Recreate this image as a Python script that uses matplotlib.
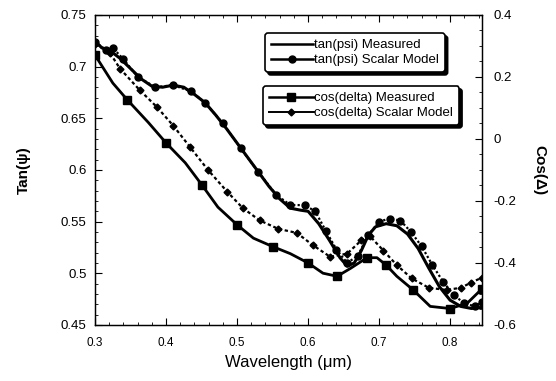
import matplotlib
matplotlib.use("Agg")
import matplotlib.pyplot as plt
from matplotlib.lines import Line2D
from matplotlib.ticker import MultipleLocator

plt.rcParams["font.family"] = ["Liberation Sans", "DejaVu Sans"]

# tan(psi) measured (left axis)
wl_tm = [0.300, 0.310, 0.320, 0.335, 0.350, 0.365, 0.380, 0.395, 0.410, 0.425,
         0.440, 0.455, 0.470, 0.485, 0.500, 0.515, 0.530, 0.545, 0.560, 0.575,
         0.590, 0.600, 0.615, 0.630, 0.645, 0.655, 0.665, 0.675, 0.685, 0.695,
         0.710, 0.725, 0.740, 0.755, 0.770, 0.785, 0.800, 0.815, 0.830, 0.845]
tan_meas = [0.724, 0.718, 0.716, 0.708, 0.698, 0.688, 0.681, 0.680, 0.682, 0.680,
            0.673, 0.665, 0.653, 0.640, 0.626, 0.612, 0.598, 0.584, 0.572, 0.563,
            0.561, 0.560, 0.548, 0.532, 0.515, 0.507, 0.510, 0.522, 0.537, 0.545,
            0.548, 0.546, 0.538, 0.524, 0.505, 0.487, 0.474, 0.468, 0.466, 0.467]

# tan(psi) scalar model (left axis)
wl_ts = [0.300, 0.315, 0.325, 0.340, 0.360, 0.385, 0.410, 0.435, 0.455, 0.480,
         0.505, 0.530, 0.555, 0.575, 0.595, 0.610, 0.625, 0.640, 0.655, 0.670,
         0.685, 0.700, 0.715, 0.730, 0.745, 0.760, 0.775, 0.790, 0.805, 0.820,
         0.835, 0.845]
tan_model = [0.724, 0.716, 0.718, 0.707, 0.690, 0.680, 0.682, 0.676, 0.665, 0.645,
             0.621, 0.598, 0.576, 0.566, 0.566, 0.560, 0.541, 0.523, 0.510, 0.517,
             0.537, 0.550, 0.553, 0.551, 0.540, 0.526, 0.508, 0.492, 0.479, 0.471,
             0.468, 0.472]

# cos(delta) measured (right axis)
wl_cm = [0.300, 0.325, 0.345, 0.375, 0.400, 0.427, 0.450, 0.473, 0.500, 0.523,
         0.550, 0.575, 0.600, 0.621, 0.641, 0.660, 0.683, 0.697, 0.710, 0.725,
         0.748, 0.772, 0.800, 0.824, 0.845]
cos_meas = [0.270, 0.180, 0.127, 0.053, -0.013, -0.077, -0.147, -0.220, -0.277, -0.320,
            -0.347, -0.370, -0.400, -0.433, -0.443, -0.417, -0.383, -0.383, -0.407, -0.443,
            -0.487, -0.540, -0.547, -0.530, -0.483]

# cos(delta) scalar model (right axis)
wl_cs = [0.300, 0.321, 0.335, 0.363, 0.387, 0.410, 0.434, 0.459, 0.486, 0.508,
         0.532, 0.558, 0.584, 0.607, 0.631, 0.655, 0.675, 0.687, 0.706, 0.725,
         0.746, 0.770, 0.795, 0.815, 0.830, 0.845]
cos_model = [0.307, 0.277, 0.227, 0.157, 0.103, 0.043, -0.027, -0.100, -0.170, -0.223,
             -0.263, -0.290, -0.303, -0.343, -0.380, -0.370, -0.327, -0.313, -0.360, -0.407,
             -0.450, -0.480, -0.487, -0.480, -0.463, -0.447]

fig = plt.figure(figsize=(5.56, 3.81), dpi=100)
ax = fig.add_axes([0.171, 0.147, 0.696, 0.814])
ax2 = ax.twinx()

ax.plot(wl_tm, tan_meas, color="black", lw=2.2, zorder=3)
ax.plot(wl_ts, tan_model, color="black", lw=1.6, ls=(0, (1, 1)), marker="o",
        ms=5, zorder=3)
ax2.plot(wl_cm, cos_meas, color="black", lw=2.0, marker="s", ms=5.5,
         markevery=2, zorder=3)
ax2.plot(wl_cs, cos_model, color="black", lw=1.6, ls=(0, (1.5, 1.2)), marker="D",
         ms=3.5, zorder=3)

ax.set_xlim(0.3, 0.845)
ax.set_ylim(0.45, 0.75)
ax2.set_ylim(-0.6, 0.4)

ax.xaxis.set_major_locator(MultipleLocator(0.1))
ax.xaxis.set_minor_locator(MultipleLocator(0.02))
ax.yaxis.set_major_locator(MultipleLocator(0.05))
ax.yaxis.set_minor_locator(MultipleLocator(0.01))
ax2.yaxis.set_major_locator(MultipleLocator(0.2))
ax2.yaxis.set_minor_locator(MultipleLocator(0.05))

ax.set_xticks([0.3, 0.4, 0.5, 0.6, 0.7, 0.8])
ax.set_xticklabels(["0.3", "0.4", "0.5", "0.6", "0.7", "0.8"])
ax.set_yticks([0.45, 0.5, 0.55, 0.6, 0.65, 0.7, 0.75])
ax.set_yticklabels(["0.45", "0.5", "0.55", "0.6", "0.65", "0.7", "0.75"])
ax2.set_yticks([-0.6, -0.4, -0.2, 0, 0.2, 0.4])
ax2.set_yticklabels(["-0.6", "-0.4", "-0.2", "0", "0.2", "0.4"])

ax.tick_params(axis="x", which="both", direction="in", top=True, labelsize=8.5, pad=9)
ax.tick_params(axis="y", which="both", direction="in", labelsize=9.5, pad=6)
ax.tick_params(which="major", length=5, width=0.8)
ax.tick_params(which="minor", length=2.5, width=0.6)
ax2.tick_params(axis="y", which="both", direction="in", labelsize=9.5, pad=8)
ax2.tick_params(which="major", length=5, width=0.8)
ax2.tick_params(which="minor", length=2.5, width=0.6)

for a in (ax, ax2):
    for s in a.spines.values():
        s.set_linewidth(0.9)

ax.set_xlabel("Wavelength (\u03bcm)", fontsize=12, labelpad=4)
ax.set_ylabel("Tan(\u03c8)", fontsize=11, fontweight="bold", labelpad=22)
ax2.set_ylabel("Cos(\u0394)", fontsize=11, fontweight="bold", rotation=270,
               labelpad=22)

shadow = {"color": "black", "alpha": 1.0}
h1 = [Line2D([], [], color="black", lw=1.8),
      Line2D([], [], color="black", lw=1.8, marker="o", ms=5)]
leg1 = fig.legend(h1, ["tan(psi) Measured", "tan(psi) Scalar Model"],
                  loc="upper left", bbox_to_anchor=(0.477, 0.913), fontsize=9.5,
                  handlelength=3.2, handletextpad=0.05, borderpad=0.45,
                  labelspacing=0.2, borderaxespad=0, fancybox=True, framealpha=1,
                  edgecolor="black", shadow=shadow)
leg1.get_frame().set_linewidth(1.2)

h2 = [Line2D([], [], color="black", lw=1.8, marker="s", ms=5.5),
      Line2D([], [], color="black", lw=1.4, marker="D", ms=3.5)]
leg2 = fig.legend(h2, ["cos(delta) Measured", "cos(delta) Scalar Model"],
                  loc="upper left", bbox_to_anchor=(0.473, 0.774), fontsize=9.5,
                  handlelength=3.4, handletextpad=0.05, borderpad=0.45,
                  labelspacing=0.2, borderaxespad=0, fancybox=True, framealpha=1,
                  edgecolor="black", shadow=shadow)
leg2.get_frame().set_linewidth(1.2)

fig.savefig("out.png", dpi=100, facecolor="white")
